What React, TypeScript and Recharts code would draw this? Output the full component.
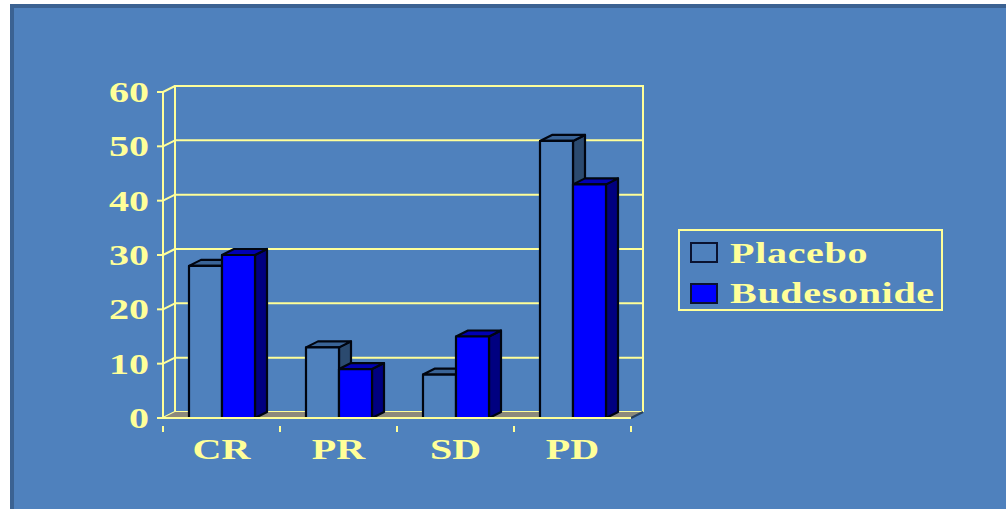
import React from "react";
import {
  BarChart,
  Bar,
  XAxis,
  YAxis,
  CartesianGrid,
  Legend,
  ReferenceArea,
} from "recharts";

const categories = ["CR", "PR", "SD", "PD"];
const placebo = [28, 13, 8, 51];
const budesonide = [30, 9, 15, 43];
const yTicks = [0, 10, 20, 30, 40, 50, 60];

const rows = categories.map((name, i) => ({
  name,
  Placebo: placebo[i],
  Budesonide: budesonide[i],
}));

const PANEL = "#4f81bd";
const YELLOW = "#ffff99";
const FONT = "'Liberation Serif', serif";
const DEPTH_X = 12;
const DEPTH_Y = 6;
const PLOT_LEFT = 163;
const PLOT_WIDTH = 468;
const STRETCH = 1.38;

const labelStyle = { fontFamily: FONT, fontWeight: 700, fontSize: 29, fill: YELLOW };

// Box front with a lit top face and a shaded side face.
function Box3D(props: any) {
  const { x, y, width, height, fill, topFill, sideFill } = props;
  const r = x + width;
  const b = y + height;
  const common = { stroke: "#000510", strokeWidth: 2.2, strokeLinejoin: "round" as const };
  return (
    <g>
      <polygon
        points={`${r},${y} ${r + DEPTH_X},${y - DEPTH_Y} ${r + DEPTH_X},${b - DEPTH_Y} ${r},${b}`}
        fill={sideFill}
        {...common}
      />
      <polygon
        points={`${x},${y} ${x + DEPTH_X},${y - DEPTH_Y} ${r + DEPTH_X},${y - DEPTH_Y} ${r},${y}`}
        fill={topFill}
        {...common}
      />
      <rect x={x} y={y} width={width} height={height} fill={fill} {...common} />
    </g>
  );
}

// Floor and back-wall verticals of the chart box.
function Frame(props: any) {
  const { x, y, width, height } = props;
  const r = x + width;
  const b = y + height;
  return (
    <g stroke={YELLOW} strokeWidth={2} fill="none">
      <polygon
        points={`${x},${b} ${r},${b} ${r + DEPTH_X},${b - DEPTH_Y} ${x + DEPTH_X},${b - DEPTH_Y}`}
        fill="#8c8a7c"
        stroke="none"
      />
      <line x1={x + DEPTH_X} y1={y - DEPTH_Y - 1} x2={x + DEPTH_X} y2={b - DEPTH_Y} />
      <line x1={r + DEPTH_X} y1={y - DEPTH_Y - 1} x2={r + DEPTH_X} y2={b - DEPTH_Y} />
      <line x1={r} y1={b} x2={r + DEPTH_X} y2={b - DEPTH_Y} stroke="#26405f" />
    </g>
  );
}

// Back-wall gridline plus the short connector to the front axis.
function BackGridLine(props: any) {
  const { x1, x2, y1 } = props;
  return (
    <g stroke={YELLOW} strokeWidth={2}>
      <line x1={x1 + DEPTH_X} y1={y1 - DEPTH_Y} x2={x2 + DEPTH_X} y2={y1 - DEPTH_Y} />
      <line x1={x1} y1={y1} x2={x1 + DEPTH_X} y2={y1 - DEPTH_Y} />
    </g>
  );
}

function ValueTick(props: any) {
  const { y, payload } = props;
  return (
    <g>
      <line x1={157} y1={y} x2={PLOT_LEFT} y2={y} stroke={YELLOW} strokeWidth={2} />
      <text
        transform={`translate(149 ${y + 10}) scale(${STRETCH} 1)`}
        textAnchor="end"
        style={labelStyle}
      >
        {payload.value}
      </text>
    </g>
  );
}

function CategoryTick(props: any) {
  const { x, y, index, payload } = props;
  const band = PLOT_WIDTH / categories.length;
  const left = x - band / 2;
  return (
    <g>
      <line x1={left} y1={y} x2={left} y2={y + 6} stroke={YELLOW} strokeWidth={2} />
      {index === categories.length - 1 && (
        <line x1={left + band} y1={y} x2={left + band} y2={y + 6} stroke={YELLOW} strokeWidth={2} />
      )}
      <text
        transform={`translate(${x} ${y + 33}) scale(${STRETCH} 1)`}
        textAnchor="middle"
        style={labelStyle}
      >
        {payload.value}
      </text>
    </g>
  );
}

function LegendBox(props: any) {
  const items = props.payload || [];
  return (
    <svg width={266} height={83} style={{ display: "block" }}>
      <rect x={1} y={1} width={263} height={80} fill="none" stroke={YELLOW} strokeWidth={2} />
      {items.map((item: any, i: number) => (
        <g key={item.value}>
          <rect
            x={13}
            y={14 + i * 41}
            width={26}
            height={19}
            fill={item.color}
            stroke="#0a1230"
            strokeWidth={2}
          />
          <text
            transform={`translate(52 ${34 + i * 40}) scale(${STRETCH} 1)`}
            style={{ ...labelStyle, letterSpacing: 0.5 }}
          >
            {item.value}
          </text>
        </g>
      ))}
    </svg>
  );
}

export default function App() {
  return (
    <div style={{ position: "absolute", left: 0, top: 0, width: 1006, height: 509, background: "#fff", overflow: "hidden" }}>
      <div
        style={{
          position: "absolute",
          left: 10,
          top: 4,
          width: 996,
          height: 505,
          boxSizing: "border-box",
          background: PANEL,
          borderLeft: "4px solid #3b6292",
          borderTop: "4px solid #3b6292",
        }}
      />
      <div style={{ position: "absolute", left: 0, top: 0 }}>
        <BarChart
          width={1006}
          height={509}
          data={rows}
          barSize={33}
          barGap={0}
          margin={{ top: 92, right: 375, bottom: 61, left: 0 }}
        >
          <CartesianGrid vertical={false} horizontal={BackGridLine} stroke={YELLOW} />
          <ReferenceArea y1={0} y2={60} shape={Frame} />
          <XAxis
            dataKey="name"
            height={30}
            axisLine={{ stroke: YELLOW, strokeWidth: 2 }}
            tickLine={false}
            tick={CategoryTick}
            interval={0}
          />
          <YAxis
            width={163}
            domain={[0, 60]}
            ticks={yTicks}
            axisLine={{ stroke: YELLOW, strokeWidth: 2 }}
            tickLine={false}
            tick={ValueTick}
            interval={0}
          />
          <Legend
            layout="vertical"
            align="center"
            verticalAlign="middle"
            content={LegendBox}
            itemSorter={null}
            wrapperStyle={{ position: "absolute", left: 678, top: 229, width: 266, height: 83, margin: 0 }}
          />
          <Bar
            dataKey="Placebo"
            fill={PANEL}
            isAnimationActive={false}
            shape={(p: any) => <Box3D {...p} topFill="#3a6497" sideFill="#2b4a6f" />}
          />
          <Bar
            dataKey="Budesonide"
            fill="#0000ff"
            isAnimationActive={false}
            shape={(p: any) => <Box3D {...p} topFill="#0000b4" sideFill="#000080" />}
          />
        </BarChart>
      </div>
    </div>
  );
}
